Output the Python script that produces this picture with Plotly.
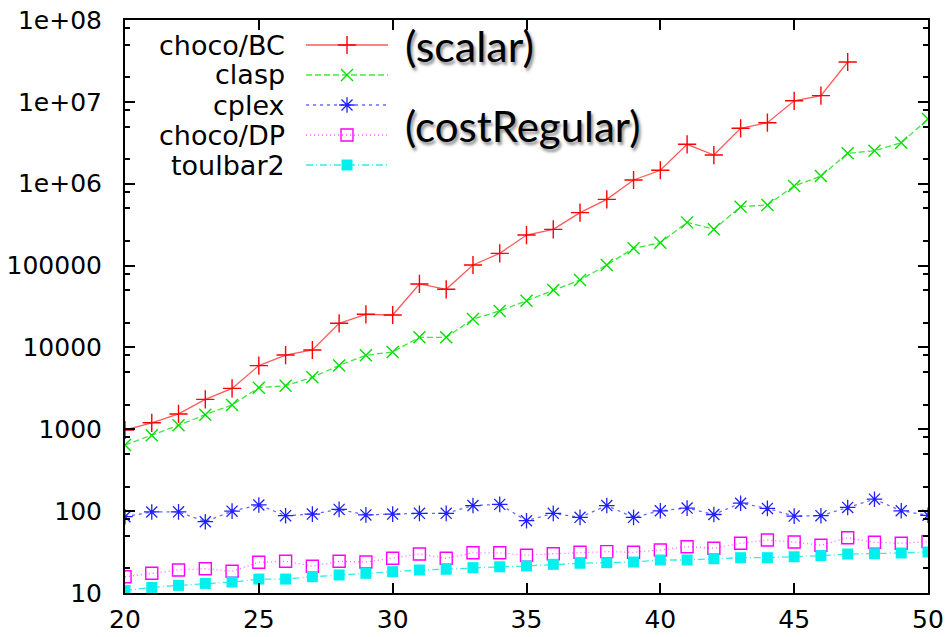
import plotly.graph_objects as go

# ---------------- data ----------------
x_bc = list(range(20, 48))
choco_bc = [980, 1200, 1540, 2320, 3160, 6000, 8070, 9300, 19700, 25400, 24900,
            59600, 51300, 101600, 141000, 236000, 277000, 443000, 644000, 1110000,
            1460000, 3030000, 2240000, 4750000, 5560000, 10300000, 11900000, 30700000]

x_all = list(range(20, 51))
clasp = [643, 843, 1120, 1510, 1980, 3220, 3410, 4310, 6030, 8010, 8790, 13300,
         13300, 22200, 27900, 37200, 50200, 66700, 101600, 162600, 190000, 337000,
         277000, 524000, 550000, 937000, 1240000, 2350000, 2530000, 3170000, 6170000]
cplex = [85.5, 97.7, 98, 74.3, 100, 119, 88, 92, 105, 90, 92, 94, 94, 117, 121,
         76.4, 94, 84, 117, 84, 101, 109, 91, 125, 108, 87, 88, 111, 140, 101, 89]
choco_dp = [15.8, 17.4, 19.1, 19.8, 18.4, 23.7, 24.4, 21.2, 24.4, 23.9, 26.6, 29.9,
            26.6, 31, 31, 28.9, 30.2, 31.4, 32, 31.4, 33.5, 36.8, 35.2, 40.5, 44.4,
            42, 38.3, 47.4, 41.6, 40.5, 42.4]
toulbar2 = [10.7, 11.7, 12.4, 13.1, 13.6, 14.8, 14.8, 15.8, 16.6, 17.4, 18.2, 19.1,
            19.5, 20.4, 20.9, 21.4, 22.4, 23.1, 23.5, 23.9, 25.3, 25.3, 26.2, 27, 27,
            27.7, 28.6, 29.9, 30.2, 30.8, 31.7]

series_names = ["choco/BC", "clasp", "cplex", "choco/DP", "toulbar2"]
y_tickvals = [10, 100, 1000, 10000, 100000, 1e6, 1e7, 1e8]
y_ticktext = ["10", "100", "1000", "10000", "100000", "1e+06", "1e+07", "1e+08"]
x_tickvals = [20, 25, 30, 35, 40, 45, 50]
minor_vals = [m * 10 ** e for e in range(1, 8) for m in (2, 5, 8)]

# ---------------- styles ----------------
styles = [
    dict(line=dict(color="rgba(255,0,0,0.65)", width=1.3, dash="solid"),
         marker=dict(symbol="cross-thin-open", size=13, color="#ff0000",
                     line=dict(color="#ff0000", width=1.4))),
    dict(line=dict(color="rgba(0,220,0,0.75)", width=1.3, dash="6px,3px"),
         marker=dict(symbol="x-thin-open", size=12, color="#00e000",
                     line=dict(color="#11e011", width=1.4))),
    dict(line=dict(color="rgba(40,40,255,0.7)", width=1.3, dash="3px,4px"),
         marker=dict(symbol="asterisk-open", size=13, color="#2020ff",
                     line=dict(color="#2020ff", width=1.3))),
    dict(line=dict(color="rgba(255,0,255,0.6)", width=1.3, dash="1px,3px"),
         marker=dict(symbol="square-open", size=12, color="#ff00ff",
                     line=dict(color="#ff00ff", width=1.4))),
    dict(line=dict(color="rgba(0,230,230,0.8)", width=1.3, dash="7px,3px,1px,3px"),
         marker=dict(symbol="square", size=11, color="#00f0f0",
                     line=dict(color="#00f0f0", width=0))),
]

xs = [x_bc, x_all, x_all, x_all, x_all]
ys = [choco_bc, clasp, cplex, choco_dp, toulbar2]

fig = go.Figure()
for name, xv, yv, st in zip(series_names, xs, ys, styles):
    fig.add_trace(go.Scatter(x=xv, y=yv, mode="lines+markers", name=name,
                             line=st["line"], marker=st["marker"],
                             showlegend=False))

# ---------------- gnuplot-style key (text left, sample right) ----------------
W, H = 951, 637
L, R, T, B = 125, 23, 20, 44
pw, ph = W - L - R, H - T - B
def px(x):
    return (x - L) / pw
def py(y):
    return (H - B - y) / ph

key_rows = [45, 75, 105, 135, 165]
for name, st, ry in zip(series_names, styles, key_rows):
    fig.add_trace(go.Scatter(x=[px(306), px(388)], y=[py(ry), py(ry)], mode="lines",
                             line=st["line"], xaxis="x2", yaxis="y2",
                             showlegend=False, hoverinfo="skip"))
    fig.add_trace(go.Scatter(x=[px(347)], y=[py(ry)], mode="markers",
                             marker=st["marker"], xaxis="x2", yaxis="y2",
                             showlegend=False, hoverinfo="skip"))
    fig.add_annotation(x=px(287), y=py(ry), xref="paper", yref="paper",
                       text=name, showarrow=False, xanchor="right", yanchor="middle",
                       font=dict(family="DejaVu Sans", size=27, color="black"))

shadow = "2px 3px 3px rgba(0,0,0,0.45)"
fig.add_annotation(x=px(403), y=py(45), xref="paper", yref="paper", text="(scalar)",
                   showarrow=False, xanchor="left", yanchor="middle",
                   font=dict(family="Lato", size=43, color="black", shadow=shadow))
fig.add_annotation(x=px(403), y=py(126), xref="paper", yref="paper",
                   text="(costRegular)", showarrow=False, xanchor="left",
                   yanchor="middle",
                   font=dict(family="Lato", size=42, color="black", shadow=shadow))

tickfont = dict(family="DejaVu Sans", size=25, color="black")
fig.update_layout(
    width=W, height=H,
    margin=dict(l=L, r=R, t=T, b=B, pad=0),
    paper_bgcolor="white", plot_bgcolor="white",
    xaxis=dict(range=[20, 50], tickvals=x_tickvals, ticks="inside", ticklen=10,
               tickwidth=1.5, tickcolor="black", showline=True, linecolor="black",
               linewidth=2, mirror="allticks", showgrid=False, zeroline=False,
               tickfont=tickfont, ticklabelstandoff=3, automargin=False),
    yaxis=dict(type="log", range=[1, 8], tickvals=y_tickvals, ticktext=y_ticktext,
               ticks="inside", ticklen=10, tickwidth=1.5, tickcolor="black",
               showline=True, linecolor="black", linewidth=2, mirror="allticks",
               showgrid=False, zeroline=False, tickfont=tickfont,
               ticklabelstandoff=16, automargin=False,
               minor=dict(tickmode="array", tickvals=minor_vals, ticks="inside",
                          ticklen=5, tickwidth=1.5, tickcolor="black",
                          showgrid=False)),
    xaxis2=dict(overlaying="x", range=[0, 1], visible=False, fixedrange=True),
    yaxis2=dict(overlaying="y", range=[0, 1], visible=False, fixedrange=True),
)

fig.write_html("out.html")
